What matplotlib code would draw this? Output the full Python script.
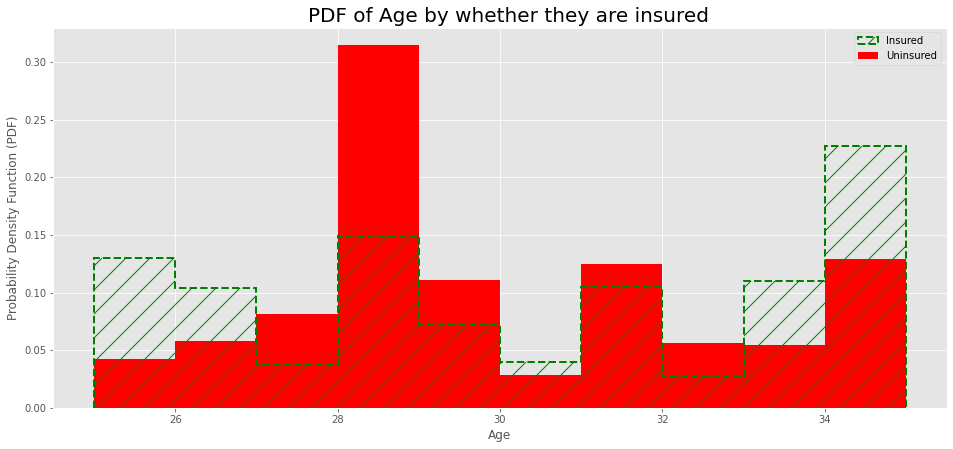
import matplotlib
matplotlib.use("Agg")
import matplotlib.pyplot as plt
import numpy as np

plt.style.use("ggplot")

# bin edges and densities
bin_edges = [25, 26, 27, 28, 29, 30, 31, 32, 33, 34, 35]
insured = [0.130, 0.104, 0.038, 0.149, 0.072, 0.040, 0.105, 0.027, 0.110, 0.227]
uninsured = [0.0425, 0.058, 0.0815, 0.315, 0.111, 0.029, 0.125, 0.0565, 0.0545, 0.1295]

fig = plt.figure(figsize=(953 / 72, 449 / 72), dpi=72)
ax = fig.add_axes([53.4 / 953, 1 - 408 / 449, 893.2 / 953, (408 - 28) / 449])

centers = np.array(bin_edges[:-1]) + 0.5

ax.hist(
    centers,
    bins=bin_edges,
    weights=uninsured,
    color="red",
    label="Uninsured",
    zorder=2,
)
ax.hist(
    centers,
    bins=bin_edges,
    weights=insured,
    histtype="step",
    edgecolor="green",
    linestyle="--",
    linewidth=2,
    hatch="/",
    label="Insured",
    zorder=3,
)

ax.set_xlim(24.5, 35.5)
ax.set_ylim(0, 0.3296)
ax.set_xticks([26, 28, 30, 32, 34])
ax.set_yticks([0.0, 0.05, 0.10, 0.15, 0.20, 0.25, 0.30])
ax.set_yticklabels(["0.00", "0.05", "0.10", "0.15", "0.20", "0.25", "0.30"])

# the title sits a little right of the axes centre in the reference
ax.set_title("PDF of Age by whether they are insured", fontsize=20, color="black", x=0.509)
ax.set_xlabel("Age", fontsize=12)
ax.set_ylabel("Probability Density Function (PDF)", fontsize=12)

handles, labels = ax.get_legend_handles_labels()
ax.legend(
    handles[::-1],
    labels[::-1],
    loc="upper right",
    bbox_to_anchor=(0.999, 1.003),
    fontsize=10,
)

fig.savefig("out.png", dpi=72)
